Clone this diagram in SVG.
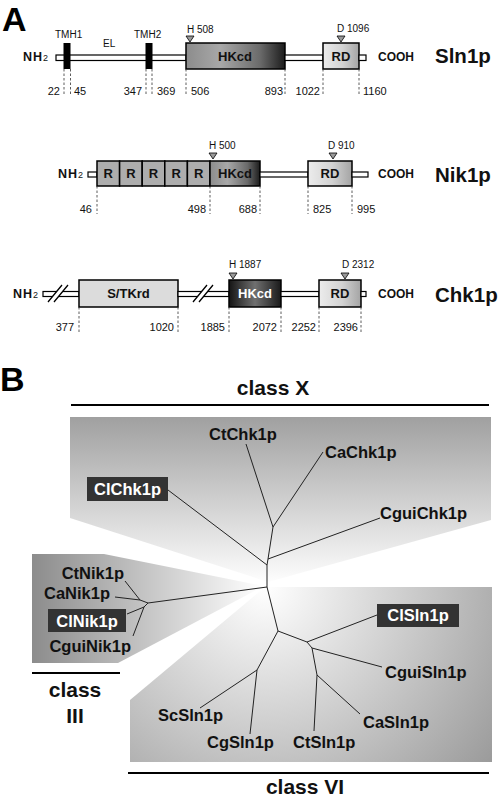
<svg xmlns="http://www.w3.org/2000/svg" width="500" height="799" viewBox="0 0 500 799">
<defs>
  <linearGradient id="hkA" x1="0" y1="0" x2="1" y2="0">
    <stop offset="0" stop-color="#8c8c8c"/><stop offset="0.35" stop-color="#a8a8a8"/><stop offset="0.75" stop-color="#6a6a6a"/><stop offset="1" stop-color="#1c1c1c"/>
  </linearGradient>
  <linearGradient id="hkB" x1="0" y1="0" x2="1" y2="0">
    <stop offset="0" stop-color="#141414"/><stop offset="0.5" stop-color="#707070"/><stop offset="1" stop-color="#1a1a1a"/>
  </linearGradient>
  <linearGradient id="rd" x1="0" y1="0" x2="1" y2="0">
    <stop offset="0" stop-color="#ececec"/><stop offset="0.55" stop-color="#d2d2d2"/><stop offset="1" stop-color="#a4a4a4"/>
  </linearGradient>
  <linearGradient id="gX" gradientUnits="userSpaceOnUse" x1="0" y1="417" x2="0" y2="585">
    <stop offset="0" stop-color="#a0a0a0"/><stop offset="1" stop-color="#ffffff"/>
  </linearGradient>
  <linearGradient id="gIII" gradientUnits="userSpaceOnUse" x1="32" y1="0" x2="262" y2="0">
    <stop offset="0" stop-color="#8c8c8c"/><stop offset="1" stop-color="#ffffff"/>
  </linearGradient>
  <radialGradient id="gVI" gradientUnits="userSpaceOnUse" cx="265" cy="587" r="300">
    <stop offset="0" stop-color="#ffffff"/><stop offset="1" stop-color="#969696"/>
  </radialGradient>
</defs>
<style>
  text{font-family:"Liberation Sans",Arial,sans-serif;fill:#111}
  .bx{stroke:#000;stroke-width:1.5}
  .ln{fill:#fff;stroke:#000;stroke-width:1.2}
  .tm{fill:#000}
  .dash{stroke:#333;stroke-width:0.8;stroke-dasharray:2.5 2;fill:none}
  .tri{fill:#9a9a9a;stroke:#000;stroke-width:0.8}
  .num{font-size:11px}
  .sm{font-size:10px}
  .dom{font-size:13px;font-weight:bold;text-anchor:middle}
  .nh{font-size:12.5px;font-weight:bold;letter-spacing:1px}
  .sub{font-size:9px;font-weight:normal}
  .cooh{font-size:12px;font-weight:bold}
  .prot{font-size:20.5px;font-weight:bold}
  .big{font-size:34px;font-weight:bold;fill:#000}
  .slw{fill:#fff;stroke:none}
  .sl{stroke:#000;stroke-width:1.3}
  .tree{fill:none;stroke:#222;stroke-width:1}
  .tl{font-size:16.5px;font-weight:bold}
  .tb{fill:#333}
  .tw{font-size:16.5px;font-weight:bold;fill:#fff;text-anchor:middle}
  .cls{font-size:21px;font-weight:bold}
  .bar{stroke:#000;stroke-width:2}
</style>
<rect width="500" height="799" fill="#fff"/>

<text class="big" x="2" y="31">A</text>

<g id="sln1p">
  <rect class="ln" x="56" y="55" width="130" height="5.5"/>
  <rect class="tm" x="63.5" y="43" width="7" height="26"/>
  <rect class="tm" x="145.5" y="43" width="7" height="26"/>
  <rect class="bx" x="186" y="43" width="99" height="26" fill="url(#hkA)"/>
  <rect class="ln" x="285" y="55" width="38" height="5.5"/>
  <rect class="bx" x="323" y="43" width="36" height="26" fill="url(#rd)"/>
  <rect class="ln" x="359" y="55" width="7" height="5.5"/>
  <polygon class="tri" points="186,36 194,36 190,42"/>
  <polygon class="tri" points="337,36 345,36 341,42"/>
  <path class="dash" d="M64,69V96M70.5,69V96M146,69V96M152,69V96M186,69V96M285,69V96M323,69V96M359,69V96"/>
  <text class="nh" x="23" y="61">NH<tspan class="sub">2</tspan></text>
  <text class="sm" x="55" y="38">TMH1</text>
  <text class="sm" x="134" y="38">TMH2</text>
  <text class="sm" x="103" y="47">EL</text>
  <text class="sm" x="187" y="33">H 508</text>
  <text class="sm" x="337" y="32">D 1096</text>
  <text class="dom" x="235" y="61">HKcd</text>
  <text class="dom" x="341" y="61">RD</text>
  <text class="cooh" x="378" y="61">COOH</text>
  <text class="prot" x="435" y="63">Sln1p</text>
  <text class="num" x="60" y="95" text-anchor="end">22</text>
  <text class="num" x="74" y="95">45</text>
  <text class="num" x="142" y="95" text-anchor="end">347</text>
  <text class="num" x="157" y="95">369</text>
  <text class="num" x="191" y="95">506</text>
  <text class="num" x="283" y="95" text-anchor="end">893</text>
  <text class="num" x="320" y="95" text-anchor="end">1022</text>
  <text class="num" x="363" y="95">1160</text>
</g>

<g id="nik1p">
  <rect class="ln" x="88" y="172" width="9" height="5"/>
  <rect class="bx" x="97" y="161" width="22.6" height="25" fill="#adadad"/>
  <rect class="bx" x="119.6" y="161" width="22.6" height="25" fill="#adadad"/>
  <rect class="bx" x="142.2" y="161" width="22.6" height="25" fill="#adadad"/>
  <rect class="bx" x="164.8" y="161" width="22.6" height="25" fill="#adadad"/>
  <rect class="bx" x="187.4" y="161" width="22.6" height="25" fill="#adadad"/>
  <rect class="bx" x="210" y="161" width="50" height="25" fill="url(#hkA)"/>
  <rect class="ln" x="260" y="172" width="48" height="5"/>
  <rect class="bx" x="308" y="161" width="44" height="25" fill="url(#rd)"/>
  <rect class="ln" x="352" y="172" width="16" height="5"/>
  <polygon class="tri" points="209,153 217,153 213,159"/>
  <polygon class="tri" points="329,153 337,153 333,159"/>
  <path class="dash" d="M97,186V214M210,186V214M260,186V214M308,186V214M352,186V214"/>
  <text class="nh" x="58" y="178">NH<tspan class="sub">2</tspan></text>
  <text class="dom" x="108.3" y="178">R</text>
  <text class="dom" x="130.9" y="178">R</text>
  <text class="dom" x="153.5" y="178">R</text>
  <text class="dom" x="176.1" y="178">R</text>
  <text class="dom" x="198.7" y="178">R</text>
  <text class="dom" x="235" y="178">HKcd</text>
  <text class="dom" x="330" y="178">RD</text>
  <text class="sm" x="209" y="149">H 500</text>
  <text class="sm" x="328" y="149">D 910</text>
  <text class="cooh" x="378" y="178">COOH</text>
  <text class="prot" x="435" y="182">Nik1p</text>
  <text class="num" x="92" y="213" text-anchor="end">46</text>
  <text class="num" x="206" y="213" text-anchor="end">498</text>
  <text class="num" x="257" y="213" text-anchor="end">688</text>
  <text class="num" x="313" y="213">825</text>
  <text class="num" x="357" y="213">995</text>
</g>

<g id="chk1p">
  <rect class="ln" x="43" y="291.5" width="36" height="5"/>
  <rect class="bx" x="79" y="280" width="99" height="27" fill="#dcdcdc"/>
  <rect class="ln" x="178" y="291.5" width="51" height="5"/>
  <rect class="bx" x="229" y="280" width="52" height="27" fill="url(#hkB)"/>
  <rect class="ln" x="281" y="291.5" width="38" height="5"/>
  <rect class="bx" x="319" y="280" width="42" height="27" fill="url(#rd)"/>
  <rect class="ln" x="361" y="291.5" width="5" height="5"/>
  <polygon class="slw" points="48,302 62,285 68,285 54,302"/>
  <path class="sl" d="M48,302L62,285M54,302L68,285"/>
  <polygon class="slw" points="193,302 207,285 213,285 199,302"/>
  <path class="sl" d="M193,302L207,285M199,302L213,285"/>
  <polygon class="tri" points="229,273 237,273 233,279"/>
  <polygon class="tri" points="341,273 349,273 345,279"/>
  <path class="dash" d="M79,307V333M178,307V333M229,307V333M281,307V333M319,307V333M361,307V333"/>
  <text class="nh" x="13" y="298">NH<tspan class="sub">2</tspan></text>
  <text class="dom" x="128.5" y="298">S/TKrd</text>
  <text class="dom" x="255" y="298" style="fill:#fff">HKcd</text>
  <text class="dom" x="340" y="298">RD</text>
  <text class="sm" x="229" y="268">H 1887</text>
  <text class="sm" x="342" y="268">D 2312</text>
  <text class="cooh" x="378" y="298">COOH</text>
  <text class="prot" x="435" y="302">Chk1p</text>
  <text class="num" x="74" y="331" text-anchor="end">377</text>
  <text class="num" x="174" y="331" text-anchor="end">1020</text>
  <text class="num" x="225" y="331" text-anchor="end">1885</text>
  <text class="num" x="277" y="331" text-anchor="end">2072</text>
  <text class="num" x="316" y="331" text-anchor="end">2252</text>
  <text class="num" x="358" y="331" text-anchor="end">2396</text>
</g>

<text class="big" x="0" y="391">B</text>

<g id="classes">
  <polygon points="70,417 491,417 491,520 268,582 70,518" fill="url(#gX)"/>
  <polygon points="32,554 104,554 264,586 118,663 32,663" fill="url(#gIII)"/>
  <polygon points="265,587 492,587 492,762 130,762 130,700" fill="url(#gVI)"/>
  <line class="bar" x1="71" y1="405" x2="489" y2="405"/>
  <line class="bar" x1="32" y1="673" x2="120" y2="673"/>
  <line class="bar" x1="128" y1="773" x2="489" y2="773"/>
  <text class="cls" x="273" y="395" text-anchor="middle">class X</text>
  <text class="cls" x="75" y="697" text-anchor="middle">class</text>
  <text class="cls" x="75" y="723" text-anchor="middle">III</text>
  <text class="cls" x="305" y="794" text-anchor="middle">class VI</text>
</g>

<g id="connectors" class="tree">
  <polyline points="273,527 268,559 267,565 267,587 278,631 307,642 312,648 317,675"/>
  <line x1="273" y1="527" x2="246" y2="444"/>
  <line x1="273" y1="527" x2="323" y2="452"/>
  <line x1="268" y1="559" x2="380" y2="518"/>
  <line x1="267" y1="565" x2="168" y2="490"/>
  <line x1="267" y1="587" x2="148" y2="603"/>
  <polyline points="125,581 140,600 115,597"/>
  <line x1="140" y1="600" x2="148" y2="603"/>
  <polyline points="127,614 144,607 133,636"/>
  <line x1="144" y1="607" x2="148" y2="603"/>
  <line x1="307" y1="642" x2="377" y2="615"/>
  <line x1="312" y1="648" x2="382" y2="667"/>
  <line x1="317" y1="675" x2="360" y2="714"/>
  <line x1="317" y1="675" x2="314" y2="731"/>
  <line x1="278" y1="631" x2="257" y2="670"/>
  <line x1="257" y1="670" x2="200" y2="708"/>
  <line x1="257" y1="670" x2="250" y2="734"/>
</g>

<g id="n-CtChk1p"><text class="tl" x="209" y="440">CtChk1p</text></g>
<g id="n-CaChk1p"><text class="tl" x="325" y="458">CaChk1p</text></g>
<g id="n-CguiChk1p"><text class="tl" x="380" y="519">CguiChk1p</text></g>
<g id="n-ClChk1p"><rect class="tb" x="87" y="477" width="81" height="24"/><text class="tw" x="127.5" y="495">ClChk1p</text></g>
<g id="n-CtNik1p"><text class="tl" x="124" y="579" text-anchor="end">CtNik1p</text></g>
<g id="n-CaNik1p"><text class="tl" x="110" y="599" text-anchor="end">CaNik1p</text></g>
<g id="n-ClNik1p"><rect class="tb" x="48" y="609" width="78" height="23"/><text class="tw" x="87" y="627">ClNik1p</text></g>
<g id="n-CguiNik1p"><text class="tl" x="131" y="652" text-anchor="end">CguiNik1p</text></g>
<g id="n-ClSln1p"><rect class="tb" x="377" y="604" width="82" height="23"/><text class="tw" x="418" y="621">ClSln1p</text></g>
<g id="n-CguiSln1p"><text class="tl" x="385" y="678">CguiSln1p</text></g>
<g id="n-CaSln1p"><text class="tl" x="363" y="728">CaSln1p</text></g>
<g id="n-CtSln1p"><text class="tl" x="293" y="748">CtSln1p</text></g>
<g id="n-CgSln1p"><text class="tl" x="207" y="748">CgSln1p</text></g>
<g id="n-ScSln1p"><text class="tl" x="158" y="721">ScSln1p</text></g>
</svg>
